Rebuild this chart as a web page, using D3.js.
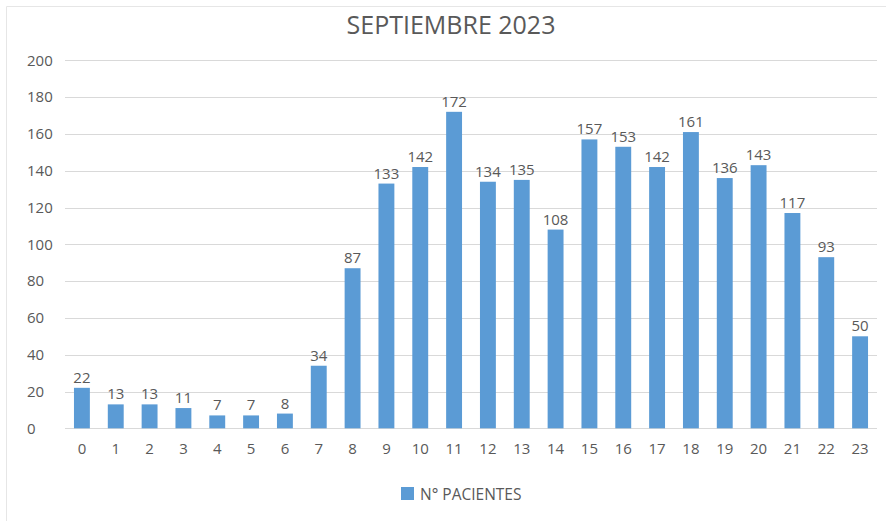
<!DOCTYPE html>
<html>
<head>
<meta charset="utf-8">
<script src="https://cdn.jsdelivr.net/npm/d3@7"></script>
<style>
  html, body { margin: 0; padding: 0; background: #fff; }
  svg { display: block; }
  text { font-family: "Open Sans", Arial, sans-serif; fill: #595959; }
</style>
</head>
<body>
<svg id="chart" width="886" height="521"></svg>
<script>
// Hours of the day and patients attended in each hour
const hours = d3.range(0, 24).map(String);
const patients = [22, 13, 13, 11, 7, 7, 8, 34, 87, 133, 142, 172, 134, 135, 108, 157, 153, 142, 161, 136, 143, 117, 93, 50];
const yTicks = [0, 20, 40, 60, 80, 100, 120, 140, 160, 180, 200];
const chartTitle = "SEPTIEMBRE 2023";
const seriesName = "N° PACIENTES";

const svg = d3.select("#chart");
const barColor = "#5B9BD5";
const fontFamily = "\"Open Sans\", Arial, sans-serif";

// faint frame edges (top and left)
svg.append("path")
  .attr("d", "M6.5,521 V6.5 H886")
  .attr("fill", "none")
  .attr("stroke", "#e6e6e6");

const plot = { left: 65, right: 877, top: 60.3, bottom: 428.3 };

const x = d3.scaleBand().domain(hours).range([plot.left, plot.right]).paddingInner(0.53).paddingOuter(0.265);
const y = d3.scaleLinear().domain([0, 200]).range([plot.bottom, plot.top]);

// horizontal gridlines
svg.append("g")
  .selectAll("line").data(yTicks).join("line")
  .attr("x1", plot.left).attr("x2", plot.right)
  .attr("y1", d => Math.round(y(d)) + 0.5).attr("y2", d => Math.round(y(d)) + 0.5)
  .attr("stroke", "#d9d9d9").attr("stroke-width", 1);

// y axis labels (left-aligned column)
const yAxis = d3.axisLeft(y).tickValues(yTicks).tickSize(0).tickPadding(0);
svg.append("g")
  .attr("transform", "translate(27,0)")
  .call(yAxis)
  .call(g => g.select(".domain").remove())
  .call(g => g.selectAll("text").attr("font-size", 15).attr("fill", "#595959")
    .attr("text-anchor", "start").attr("x", 0)
    .style("font-family", fontFamily));

// x axis labels
const xAxis = d3.axisBottom(x).tickSize(0).tickPadding(0);
svg.append("g")
  .attr("transform", `translate(0,${plot.bottom + 15})`)
  .call(xAxis)
  .call(g => g.select(".domain").remove())
  .call(g => g.selectAll("text").attr("font-size", 15).attr("fill", "#595959")
    .style("font-family", fontFamily));

// bars
svg.append("g")
  .selectAll("rect").data(patients).join("rect")
  .attr("x", (d, i) => x(hours[i]))
  .attr("width", x.bandwidth())
  .attr("y", d => y(d))
  .attr("height", d => y(0) - y(d))
  .attr("fill", barColor);

// value labels
svg.append("g")
  .selectAll("text").data(patients).join("text")
  .attr("x", (d, i) => x(hours[i]) + x.bandwidth() / 2)
  .attr("y", d => y(d) - 5)
  .attr("text-anchor", "middle")
  .attr("font-size", 15)
  .text(d => d);

// title
svg.append("text")
  .attr("x", 451).attr("y", 34)
  .attr("text-anchor", "middle")
  .attr("font-size", 25)
  .text(chartTitle);

// legend
const legend = svg.append("g").attr("transform", "translate(401,487)");
legend.append("rect").attr("width", 13).attr("height", 13).attr("fill", barColor);
legend.append("text").attr("x", 19).attr("y", 13).attr("font-size", 15.5).text(seriesName);
</script>
</body>
</html>
